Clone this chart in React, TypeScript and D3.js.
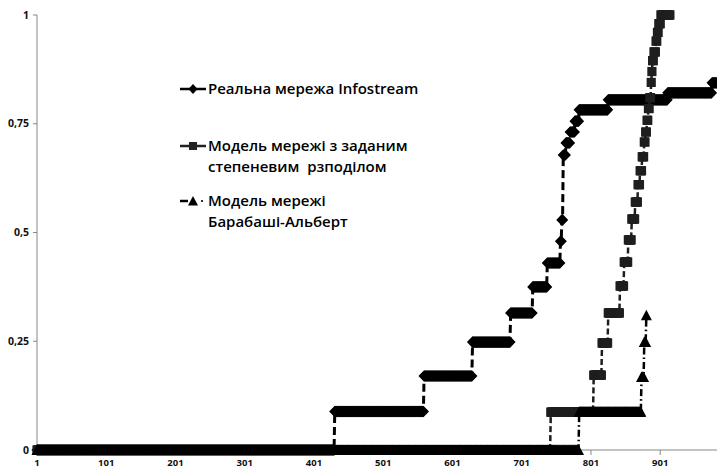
import React from 'react';
import * as d3 from 'd3';

// ---------- data (run-length: start index -> value) ----------
const categoryCount = 983;
const xTickLabels = ['1', '101', '201', '301', '401', '501', '601', '701', '801', '901'];
const yTickValues = [0, 0.25, 0.5, 0.75, 1];
const yTickLabels = ['0', '0,25', '0,5', '0,75', '1'];

const infoStarts = [1, 431, 560, 630, 685, 717, 738, 757, 759, 761, 765, 771, 778, 784, 826, 912, 976];
const infoValues = [0, 0.0885, 0.17, 0.248, 0.315, 0.375, 0.43, 0.48, 0.529, 0.678, 0.706, 0.731, 0.756, 0.782, 0.805, 0.821, 0.844];
const infoEnd = 983;

const sqStarts = [1, 743, 805, 817, 826, 843, 849, 855, 860, 865, 869, 872, 875, 878, 880, 882, 884, 886, 888, 889, 890, 892, 895, 897, 899, 902];
const sqValues = [0, 0.087, 0.172, 0.246, 0.315, 0.377, 0.432, 0.483, 0.531, 0.57, 0.61, 0.642, 0.674, 0.708, 0.731, 0.758, 0.785, 0.81, 0.845, 0.87, 0.895, 0.915, 0.94, 0.96, 0.98, 1.0];
const sqEnd = 915;

const triStarts = [1, 784, 874, 878, 881];
const triValues = [0, 0.088, 0.168, 0.248, 0.31];
const triEnd = 881;

const seriesNames = ['Реальна мережа Infostream', 'Модель мережі з заданим|степеневим  рзподілом', 'Модель мережі|Барабаші-Альберт'];

type Pt = [number, number];
function expand(starts: number[], values: number[], end: number): Pt[] {
  const pts: Pt[] = [];
  for (let k = 0; k < starts.length; k++) {
    const s = starts[k];
    const e = k + 1 < starts.length ? starts[k + 1] - 1 : end;
    for (let i = s; i <= e; i++) pts.push([i, values[k]]);
  }
  return pts;
}

const W = 717, H = 470;
const x = d3.scaleLinear().domain([1, categoryCount]).range([37, 717]);
const y = d3.scaleLinear().domain([0, 1]).range([450, 15]);

const diamond = 'M0,-5.8L5.6,0L0,5.8L-5.6,0Z';
const square = 'M-4.6,-4.6H4.6V4.6H-4.6Z';
const triangle = 'M0,-5.5L5.5,5L-5.5,5Z';

const series = [
  { pts: expand(infoStarts, infoValues, infoEnd), color: '#000', dash: '8,4', width: 3, marker: diamond },
  { pts: expand(sqStarts, sqValues, sqEnd), color: '#1e1e1e', dash: '6,3', width: 2.5, marker: square },
  { pts: expand(triStarts, triValues, triEnd), color: '#000', dash: '7,3,1.6,3', width: 2.5, marker: triangle },
];

const line = d3.line<Pt>().x(d => x(d[0])).y(d => y(d[1]));

export default function App() {
  const font = '"Open Sans", "Segoe UI", sans-serif';
  const lf = 15;
  return (
    <svg width={W} height={H} style={{ position: 'absolute', left: 0, top: 0, background: '#fff' }}>
      <rect width={W} height={H} fill="#fff" />
      {/* axes */}
      <line x1={x(1)} x2={x(1)} y1={y(1)} y2={y(0)} stroke="#868686" strokeWidth={1} />
      <line x1={x(1)} x2={W} y1={y(0)} y2={y(0)} stroke="#868686" strokeWidth={1} />
      {yTickValues.map((v, i) => (
        <g key={'yt' + i}>
          <line x1={x(1) - 4} x2={x(1)} y1={y(v)} y2={y(v)} stroke="#868686" />
          <text x={29} y={y(v)} dy="0.35em" textAnchor="end" fontFamily={font} fontWeight={700} fontSize={10.5} fill="#111">{yTickLabels[i]}</text>
        </g>
      ))}
      {xTickLabels.map((lab, i) => {
        const idx = +lab;
        return (
          <g key={'xt' + i}>
            <line x1={x(idx)} x2={x(idx)} y1={y(0)} y2={y(0) + 5} stroke="#868686" />
            <text x={x(idx)} y={466} textAnchor="middle" fontFamily={font} fontWeight={700} fontSize={9.5} fill="#111">{lab}</text>
          </g>
        );
      })}
      {/* series */}
      {series.map((s, si) => (
        <g key={'s' + si}>
          <path d={line(s.pts) || ''} fill="none" stroke={s.color} strokeWidth={s.width} strokeDasharray={s.dash} />
          {s.pts.map((p, pi) => (
            <path key={pi} d={s.marker} transform={`translate(${x(p[0])},${y(p[1])})`} fill={s.color} />
          ))}
        </g>
      ))}
      {/* legend */}
      <g>
        <line x1={180} x2={206} y1={89} y2={89} stroke="#000" strokeWidth={2.5} />
        <path d="M0,-5L4.6,0L0,5L-4.6,0Z" transform="translate(193,89)" fill="#000" />
        <text x={208} y={89} dy="0.35em" fontFamily={font} fontWeight={600} fontSize={lf} fill="#000">{seriesNames[0]}</text>

        <line x1={180} x2={206} y1={146} y2={146} stroke="#222" strokeWidth={2.5} />
        <path d="M-4,-4H4V4H-4Z" transform="translate(193,146)" fill="#222" />
        {seriesNames[1].split('|').map((t, i) => (
          <text key={'l1' + i} x={208} y={146 + i * 21} dy="0.35em" fontFamily={font} fontWeight={600} fontSize={lf} fill="#000" style={{ whiteSpace: 'pre' }}>{t}</text>
        ))}

        <line x1={180} x2={188} y1={201} y2={201} stroke="#000" strokeWidth={2.5} />
        <path d="M0,-5L5,4.5L-5,4.5Z" transform="translate(193,201)" fill="#000" />
        <circle cx={202} cy={201} r={1.1} fill="#000" />
        {seriesNames[2].split('|').map((t, i) => (
          <text key={'l2' + i} x={208} y={201 + i * 21} dy="0.35em" fontFamily={font} fontWeight={600} fontSize={lf} fill="#000">{t}</text>
        ))}
      </g>
    </svg>
  );
}
